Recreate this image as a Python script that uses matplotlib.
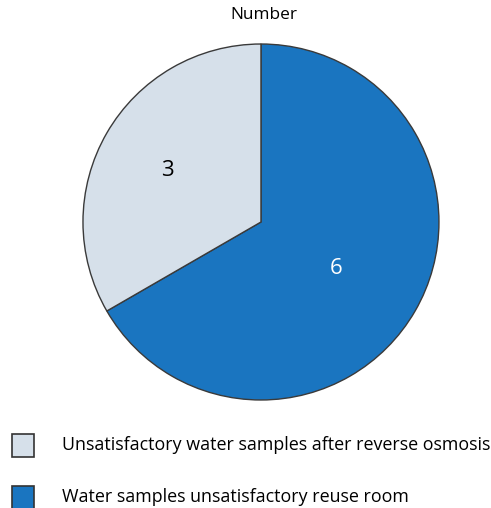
import numpy as np
import matplotlib
matplotlib.use("Agg")
import matplotlib.pyplot as plt
from matplotlib.patches import Rectangle

categories = [
    "Water samples unsatisfactory reuse room",
    "Unsatisfactory water samples after reverse osmosis",
]
values = [6, 3]
colors = ["#1a75c0", "#d6e0ea"]
label_colors = ["white", "black"]
label_dist = [0.49, 0.61]
title = "Number"

plt.rcParams["font.family"] = ["Open Sans", "DejaVu Sans"]

fig = plt.figure(figsize=(4.91, 5.08), dpi=100)
ax = fig.add_axes([0.169, 0.2126, 0.725, 0.7008])
wedges, _ = ax.pie(values, colors=colors, startangle=90, counterclock=False,
                   radius=1, wedgeprops=dict(edgecolor="#3a3a3a", linewidth=1.0))
ax.set_xlim(-1, 1)
ax.set_ylim(-1, 1)
ax.set_aspect("equal")
ax.axis("off")

# value labels at the middle of each wedge
for w, v, c, d in zip(wedges, values, label_colors, label_dist):
    mid = np.deg2rad((w.theta1 + w.theta2) / 2)
    ax.text(d * np.cos(mid), d * np.sin(mid), str(v), color=c,
            fontsize=16, ha="center", va="center_baseline")

fig.text(264 / 491, 1 - 15 / 508, title, ha="center", va="center", fontsize=12.4)

# legend, light slice first
legend_rows = [(1, 445), (0, 497)]
for idx, ypx in legend_rows:
    y = 1 - ypx / 508
    fig.patches.append(Rectangle((12 / 491, y - 11.5 / 508), 22 / 491, 23 / 508,
                                 transform=fig.transFigure, facecolor=colors[idx],
                                 edgecolor="#333333", linewidth=1.2))
    fig.text(62 / 491, y, categories[idx], ha="left", va="center", fontsize=12.9)

fig.savefig("out.png", dpi=100)
